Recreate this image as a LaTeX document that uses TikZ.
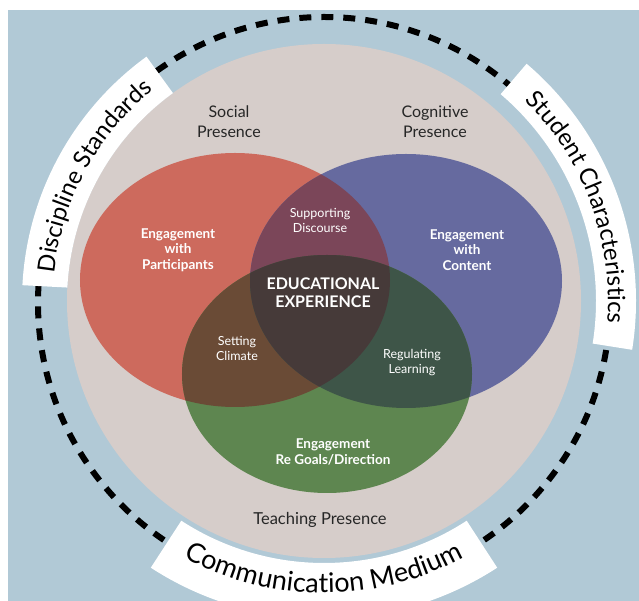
\documentclass[tikz,border=0pt]{standalone}
\usepackage{fontspec}
\setmainfont{Lato}
\usetikzlibrary{decorations.text}
\definecolor{bgblue}{HTML}{B1C9D6}
\definecolor{ringbeige}{HTML}{D6CDCA}
\definecolor{socialred}{HTML}{CD6A5D}
\definecolor{cognitiveblue}{HTML}{666A9F}
\definecolor{teachinggreen}{HTML}{5E8650}
\definecolor{discoursepurple}{HTML}{7B4659}
\definecolor{climatebrown}{HTML}{6A4B36}
\definecolor{learningteal}{HTML}{3E5548}
\definecolor{experiencedark}{HTML}{463A39}
\newcommand{\socialpath}{(-89,21) ellipse [x radius=155pt, y radius=127pt]}
\newcommand{\cognitivepath}{(82,20) ellipse [x radius=156pt, y radius=127pt]}
\newcommand{\teachingpath}{(3,-73) ellipse [x radius=145pt, y radius=119pt]}
\newcommand{\bandfont}[1]{\fontsize{#1}{#1}\selectfont}

\begin{document}
\begin{tikzpicture}[
      x=1pt, y=1pt,
      presence/.style={font=\fontsize{16}{20}\selectfont, text=black!85, align=center},
      engage/.style={font=\bfseries\fontsize{13.5}{15.5}\selectfont, text=white, align=center},
      overlap/.style={font=\fontsize{12.5}{15}\selectfont, text=white, align=center},
      band/.style={fill=white}
    ]
      \useasboundingbox (-324,-300) rectangle (315,301);
      \fill[bgblue] (-316,-300) rectangle (315,291);
      \draw[line width=6pt, dash pattern=on 12pt off 10pt] (0,-2) circle[radius=286pt];
      \fill[ringbeige] (0,0) circle[radius=257pt];

      % outer bands
      \fill[band] (126:257pt) arc[start angle=126, end angle=177, radius=257pt]
        -- (177:302pt) arc[start angle=177, end angle=126, radius=302pt] -- cycle;
      \fill[band] (-9:272pt) arc[start angle=-9, end angle=49.5, radius=272pt]
        -- (49.5:312pt) arc[start angle=49.5, end angle=-9, radius=312pt] -- cycle;
      \fill[band] (-123:262pt) arc[start angle=-123, end angle=-57, radius=262pt]
        -- (-57:318pt) arc[start angle=-57, end angle=-123, radius=318pt] -- cycle;
      \path[decorate, decoration={text along path, text align=center,
        text={|\bandfont{24}|Discipline Standards}}]
        (177:271pt) arc[start angle=177, end angle=126, radius=271pt];
      \path[decorate, decoration={text along path, text align=center,
        text={|\bandfont{24}|Student Characteristics}}]
        (49.5:284pt) arc[start angle=49.5, end angle=-9, radius=284pt];
      \path[decorate, decoration={text along path, text align=center,
        text={|\bandfont{27}|Communication Medium}}]
        (-123:292pt) arc[start angle=-123, end angle=-57, radius=292pt];

      % venn
      \fill[socialred] \socialpath;
      \fill[cognitiveblue] \cognitivepath;
      \fill[teachinggreen] \teachingpath;
      \begin{scope}
        \clip \socialpath;
        \fill[discoursepurple] \cognitivepath;
        \fill[climatebrown] \teachingpath;
      \end{scope}
      \begin{scope}
        \clip \cognitivepath;
        \fill[learningteal] \teachingpath;
      \end{scope}
      \begin{scope}
        \clip \socialpath;
        \clip \cognitivepath;
        \fill[experiencedark] \teachingpath;
      \end{scope}

      \node[presence] (social) at (-95,179) {Social\\Presence};
      \node[presence] (cognitive) at (111,179) {Cognitive\\Presence};
      \node[presence, font=\fontsize{16.5}{20}\selectfont] (teaching) at (-4,-219) {Teaching Presence};
      \node[engage] (participants) at (-146,51) {Engagement\\with\\Participants};
      \node[engage] (content) at (143,51) {Engagement\\with\\Content};
      \node[engage] (goals) at (9,-151) {Engagement\\Re Goals/Direction};
      \node[engage, font=\bfseries\fontsize{16}{18}\selectfont] (experience) at (-1,8) {EDUCATIONAL\\EXPERIENCE};
      \node[overlap] (discourse) at (-4,81) {Supporting\\Discourse};
      \node[overlap] (climate) at (-87,-47) {Setting\\Climate};
      \node[overlap] (learning) at (88,-62) {Regulating\\Learning};
    \end{tikzpicture}
\end{document}
